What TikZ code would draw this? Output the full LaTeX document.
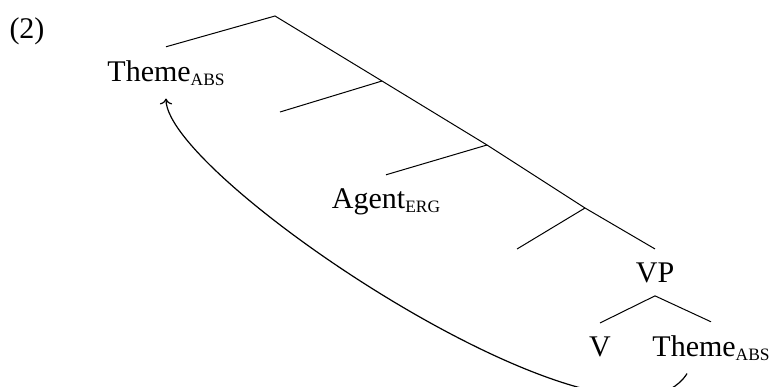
\documentclass[tikz,border=0pt]{standalone}
\usepackage{fontspec}
\setmainfont{Liberation Serif}
\usepackage{tikz}
\usetikzlibrary{arrows.meta,positioning,calc}

\newcommand{\casemark}[1]{\raisebox{-2pt}{\fontsize{8.7}{10}\selectfont #1}}

\begin{document}
\begin{tikzpicture}[x=0.5pt, y=-0.5pt,
    lbl/.style={inner sep=6.5pt, anchor=base, font=\fontsize{15}{18}\selectfont},
    branch/.style={line width=0.5pt}]
  \useasboundingbox (0,0) rectangle (774,386);

  % Example number and labels
  \node[lbl] (exnum) at (27,38) {(2)};
  \node[lbl] (themeTop) at (166,81) {Theme\casemark{ABS}};
  \node[lbl] (agent) at (386,208) {Agent\casemark{ERG}};
  \node[lbl] (vp) at (655,282) {VP};
  \node[lbl] (v) at (600,356) {V};
  \node[lbl] (themeLow) at (711,356) {Theme\casemark{ABS}};

  % Branch points
  \coordinate (root) at (275,16);
  \coordinate (n1) at (382,81);
  \coordinate (n2) at (487,145);
  \coordinate (n3) at (585,208);
  \coordinate (e1) at (280,112);
  \coordinate (e3) at (517,249);

  % Spine
  \draw[branch] (themeTop.north) -- (root) -- (n1) -- (n2) -- (n3) -- (vp.north);
  \foreach \from/\to in {n1/e1, n2/agent.north, n3/e3} {
    \draw[branch] (\from) -- (\to);
  }

  % VP
  \draw[branch] (v.north) -- (vp.south) -- (themeLow.north);

  % Movement arrow
  \draw[->, line width=0.6pt] ([xshift=-12pt]themeLow.south) .. controls +(-67,107) and +(0,80) .. (themeTop.south);
\end{tikzpicture}
\end{document}
